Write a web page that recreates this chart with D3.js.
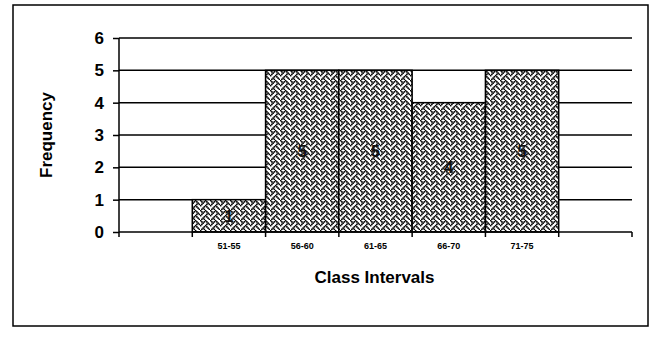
<!DOCTYPE html>
<html><head><meta charset="utf-8">
<script src="https://cdn.jsdelivr.net/npm/d3@7"></script>
<style>
body{margin:0;background:#fff;}
svg{display:block;font-family:"Liberation Sans",Arial,sans-serif;}
</style></head>
<body><svg id="c" width="657" height="339"></svg>
<script>
const classes = ["51-55", "56-60", "61-65", "66-70", "71-75"];
const frequencies = [1, 5, 5, 4, 5];
const yTicks = [0, 1, 2, 3, 4, 5, 6];
const xTitle = "Class Intervals";
const yTitle = "Frequency";

const svg = d3.select("#c");
const L = 119, R = 632, T = 38, B = 232;

// weave pattern
const weave = [0x88, 0x54, 0x22, 0x45, 0x88, 0x14, 0x22, 0x51];
const pat = svg.append("defs").append("pattern")
  .attr("id", "weave").attr("patternUnits", "userSpaceOnUse")
  .attr("width", 8).attr("height", 8).attr("patternTransform", "scale(1.25)");
pat.append("rect").attr("width", 8).attr("height", 8).attr("fill", "#fff");
weave.forEach((row, r) => {
  for (let c = 0; c < 8; c++) {
    if (row & (0x80 >> c)) pat.append("rect").attr("x", c - 0.15).attr("y", r - 0.15).attr("width", 1.3).attr("height", 1.3).attr("fill", "#000");
  }
});

// frame
svg.append("rect").attr("x", 13).attr("y", 5).attr("width", 635).attr("height", 321)
  .attr("fill", "none").attr("stroke", "#000").attr("stroke-width", 1.5);

const domain = ["_pre", ...classes, "_post"];
const x = d3.scaleBand().domain(domain).range([L, R]).padding(0);
const y = d3.scaleLinear().domain([0, 6]).range([B, T]);

// gridlines
svg.append("g").selectAll("line").data(yTicks.filter(d => d > 0)).join("line")
  .attr("x1", L).attr("x2", R).attr("y1", d => y(d)).attr("y2", d => y(d))
  .attr("stroke", "#000").attr("stroke-width", 1.5);

// bars
svg.append("g").selectAll("rect").data(classes).join("rect")
  .attr("x", d => x(d)).attr("width", x.bandwidth())
  .attr("y", (d, i) => y(frequencies[i])).attr("height", (d, i) => B - y(frequencies[i]))
  .attr("fill", "url(#weave)").attr("stroke", "#000").attr("stroke-width", 1.5);

// value labels
svg.append("g").selectAll("text").data(classes).join("text")
  .attr("x", d => x(d) + x.bandwidth() / 2)
  .attr("y", (d, i) => y(frequencies[i] / 2) + 6)
  .attr("text-anchor", "middle").attr("font-size", 16).attr("font-weight", "bold")
  .attr("fill", "#111")
  .text((d, i) => frequencies[i]);

// y axis
const yAxis = svg.append("g").attr("transform", `translate(${L},0)`)
  .call(d3.axisLeft(y).tickValues(yTicks).tickSize(6).tickPadding(9).tickFormat(d3.format("d")));
yAxis.select(".domain").attr("stroke", "#000").attr("stroke-width", 1.5).attr("d", `M0,${B}V${T}`);
yAxis.selectAll(".tick line").attr("stroke-width", 1.5);
yAxis.selectAll("text").attr("font-size", 17).attr("font-weight", "bold").attr("fill", "#000")
  .attr("font-family", "Liberation Sans, Arial, sans-serif");

// x axis
const xAxis = svg.append("g").attr("transform", `translate(0,${B})`)
  .call(d3.axisBottom(x).tickSize(0).tickPadding(11).tickFormat(d => d.startsWith("_") ? "" : d));
xAxis.select(".domain").attr("stroke", "#000").attr("stroke-width", 1.5).attr("d", `M${L},0H${R}`);
xAxis.selectAll("text").attr("font-size", 9).attr("font-weight", "bold").attr("fill", "#000")
  .attr("font-family", "Liberation Sans, Arial, sans-serif");
// boundary tick marks
const bounds = domain.map(d => x(d)).concat([R]);
xAxis.append("g").selectAll("line").data(bounds).join("line")
  .attr("x1", d => d).attr("x2", d => d).attr("y1", 0).attr("y2", 5)
  .attr("stroke", "#000").attr("stroke-width", 1.5);

// titles
svg.append("text").attr("x", (L + R) / 2 - 1).attr("y", 283).attr("text-anchor", "middle")
  .attr("font-size", 17).attr("font-weight", "bold").text(xTitle);
svg.append("text").attr("transform", `translate(52,${(T + B) / 2}) rotate(-90)`)
  .attr("text-anchor", "middle").attr("font-size", 17).attr("font-weight", "bold").text(yTitle);
</script></body></html>
